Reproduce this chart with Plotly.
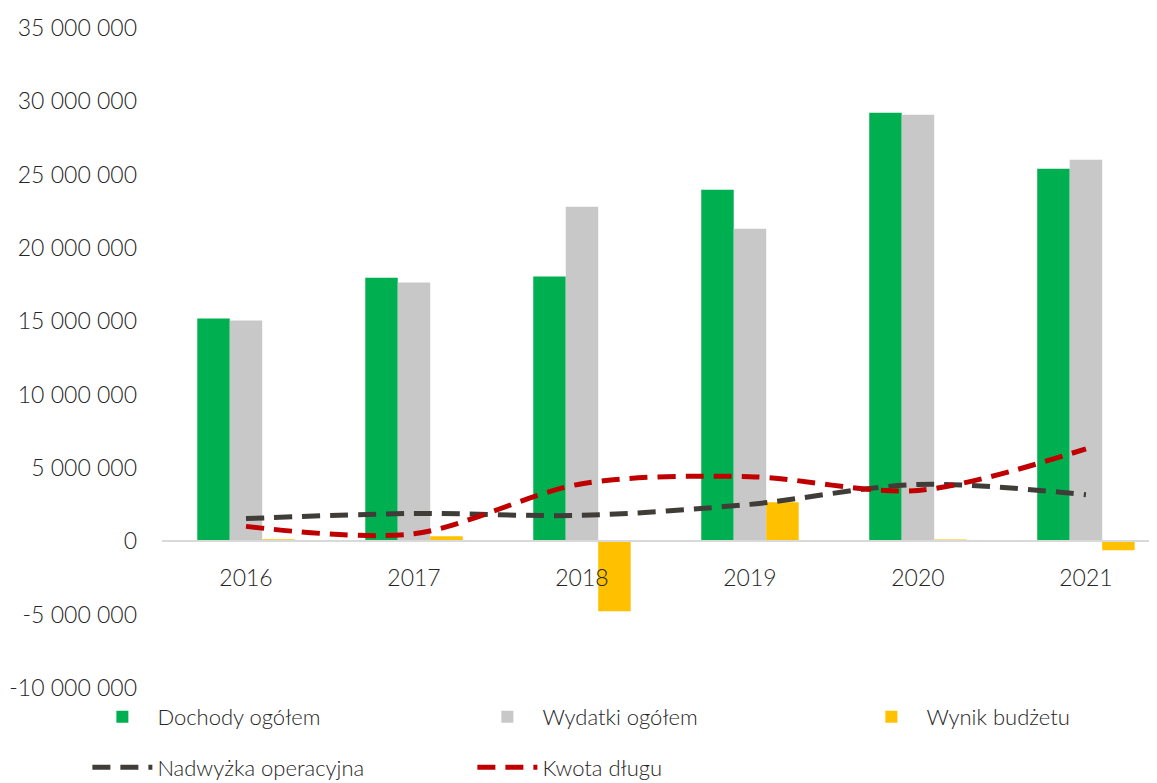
import plotly.graph_objects as go

years = ["2016", "2017", "2018", "2019", "2020", "2021"]
dochody = [15190000, 17980000, 18050000, 23980000, 29220000, 25410000]
wydatki = [15050000, 17640000, 22820000, 21320000, 29090000, 26020000]
wynik = [140000, 340000, -4770000, 2660000, 130000, -610000]
nadwyzka = [1550000, 1900000, 1770000, 2520000, 3880000, 3180000]
kwota_dlugu = [1020000, 520000, 3930000, 4410000, 3470000, 6310000]

y_tickvals = [-10000000, -5000000, 0, 5000000, 10000000, 15000000, 20000000, 25000000, 30000000, 35000000]
y_ticktext = ["-10 000 000", "-5 000 000", "0", "5 000 000", "10 000 000", "15 000 000",
              "20 000 000", "25 000 000", "30 000 000", "35 000 000"]

FONT = "Lato"
TXT = "#262626"

fig = go.Figure()
fig.add_trace(go.Bar(x=years, y=dochody, name="Dochody ogółem", marker_color="#00B050",
                     marker_line_width=0, legend="legend"))
fig.add_trace(go.Bar(x=years, y=wydatki, name="Wydatki ogółem", marker_color="#C8C8C8",
                     marker_line_width=0, legend="legend"))
fig.add_trace(go.Bar(x=years, y=wynik, name="Wynik budżetu", marker_color="#FFC000",
                     marker_line_width=0, legend="legend3"))
fig.add_trace(go.Scatter(x=years, y=nadwyzka, name="Nadwyżka operacyjna", mode="lines",
                         line=dict(color="#403D38", width=5, dash="18px,10px", shape="spline", smoothing=0.9),
                         legend="legend2"))
fig.add_trace(go.Scatter(x=years, y=kwota_dlugu, name="Kwota długu", mode="lines",
                         line=dict(color="#C00000", width=5, dash="18px,10px", shape="spline", smoothing=0.9),
                         legend="legend2"))

zero_pos = 10000000 / 45000000.0
leg_font = dict(family=FONT, size=22, color=TXT, weight=300)
common = dict(orientation="h", xanchor="left", yanchor="middle", entrywidth=310,
              entrywidthmode="pixels", font=leg_font, bgcolor="rgba(0,0,0,0)", itemwidth=60)
leg_x = -0.075

fig.update_layout(
    width=1149, height=775,
    margin=dict(l=154, r=0, t=20, b=95, autoexpand=False),
    paper_bgcolor="white", plot_bgcolor="white",
    font=dict(family=FONT, size=23, color=TXT, weight=300),
    barmode="group", bargap=0.42, bargroupgap=0.0,
    xaxis=dict(type="category", range=[-0.5, 5.423], anchor="free", position=zero_pos,
               showline=True, linecolor="#D9D9D9", linewidth=2, ticks="", ticklabelstandoff=16,
               showgrid=False, zeroline=False,
               tickfont=dict(family=FONT, size=23, color=TXT, weight=300)),
    yaxis=dict(range=[-10000000, 35000000], tickvals=y_tickvals, ticktext=y_ticktext,
               showgrid=False, zeroline=False, showline=False, ticks="",
               ticklabelstandoff=24, tickfont=dict(family=FONT, size=23, color=TXT, weight=300)),
    legend=dict(x=leg_x, y=-0.044, **common),
    legend3=dict(x=leg_x + 769 / 995.0, y=-0.044, **common),
    legend2=dict(x=leg_x, y=-0.1205, **common),
    showlegend=True,
)

fig.write_html("out.html")
